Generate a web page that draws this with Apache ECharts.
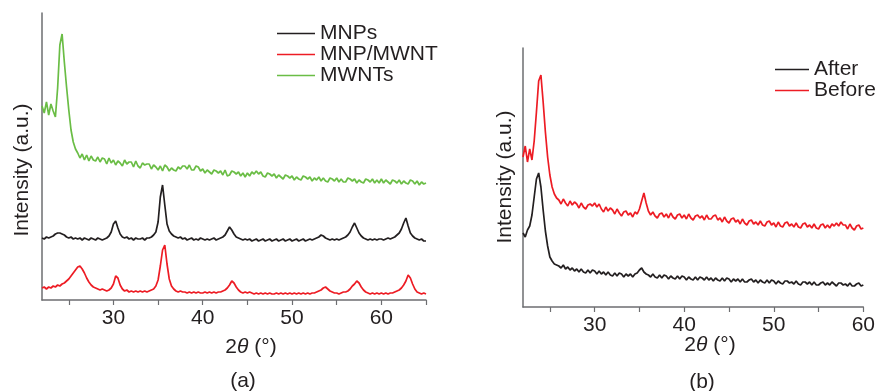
<!DOCTYPE html>
<html>
<head>
<meta charset="utf-8">
<script src="https://cdn.jsdelivr.net/npm/echarts@6/dist/echarts.min.js"></script>
<style>
  html, body { margin: 0; padding: 0; background: #fff; }
  #chart { width: 878px; height: 391px; }
</style>
</head>
<body>
<div id="chart"></div>
<script>
// 2theta sampling used for the values
const startA = 22, stepA = 0.25;   // panel (a): 22 .. 65
const startB = 22, stepB = 0.25;   // panel (b): 22 .. 60

// panel (a) tick / label positions
const ticksA = [25, 30, 35, 40, 45, 50, 55, 60, 65];
const labelsA = [30, 40, 50, 60];
// panel (b)
const ticksB = [25, 30, 35, 40, 45, 50, 55, 60];
const labelsB = [30, 40, 50, 60];

// intensities (a.u., offset stacked as in the figure), one value per 0.25 deg
const mnps = [
  62, 61, 63, 62,  63, 64, 66, 67,  67, 66, 65, 63,  62, 63, 61, 62,
  61, 62, 60, 62,  61, 60, 62, 61,  60, 62, 61, 60,  61, 62, 64, 68,
  76, 79, 72, 66,  63, 62, 63, 61,  62, 60, 62, 61,  61, 62, 60, 62,
  62, 63, 65, 68,  78, 103, 115, 95, 76, 69, 66, 64, 63, 62, 63, 61,
  62, 60, 61, 62,  60, 61, 60, 62,  61, 60, 61, 60,  61, 62, 60, 61,
  62, 63, 65, 69,  73, 70, 66, 63,  62, 61, 60, 61,  60, 61, 59, 60,
  61, 59, 60, 61,  59, 60, 61, 59,  60, 61, 59, 60,  61, 59, 60, 61,
  59, 60, 61, 59,  60, 61, 59, 60,  61, 60, 61, 62,  63, 65, 64, 62,
  61, 60, 61, 60,  61, 60, 61, 62,  63, 65, 68, 73,  77, 72, 67, 64,
  62, 61, 60, 61,  60, 61, 60, 61,  61, 60, 61, 62,  61, 62, 63, 65,
  67, 71, 77, 82,  74, 67, 64, 62,  61, 60, 61, 59,  59
];
const mnpMwnt = [
  12, 13, 11, 13,  12, 14, 13, 15,  14, 16, 17, 19,  21, 24, 27, 30,
  33, 34, 31, 27,  22, 18, 15, 13,  12, 11, 10, 11,  10, 9, 10, 12,
  16, 24, 22, 15,  11, 9, 10, 8,   9, 8, 9, 8,     9, 8, 9, 8,
  9, 10, 11, 14,   20, 34, 50, 55,  36, 21, 14, 11,  9, 8, 9, 8,
  8, 7, 8, 7,      8, 7, 8, 7,     7, 8, 7, 8,     7, 8, 7, 8,
  8, 9, 10, 12,    15, 19, 17, 13,  10, 8, 7, 8,    7, 8, 7, 6,
  7, 6, 7, 6,      7, 6, 7, 6,     6, 7, 6, 7,     6, 7, 6, 7,
  6, 7, 6, 7,      6, 7, 6, 7,     6, 7, 7, 8,     9, 10, 12, 13,
  11, 9, 8, 7,     7, 6, 7, 8,     8, 9, 11, 14,   16, 19, 17, 13,
  10, 8, 7, 6,     7, 6, 7, 6,     7, 6, 7, 6,     7, 7, 8, 9,
  10, 12, 15, 19,  25, 22, 16, 11,  8, 7, 6, 7,     6
];
const mwnts = [
  194, 187, 198, 185,  196, 189, 183, 212,  255, 266, 238, 213,  190, 170, 158, 151,
  147, 142, 146, 140,  145, 139, 144, 140,  139, 143, 138, 142,  141, 136, 142, 137,
  140, 135, 139, 137,  134, 140, 136, 138,  138, 133, 139, 134,  132, 137, 135, 136,
  136, 131, 135, 133,  130, 134, 129, 135,  133, 129, 132, 130,  129, 133, 131, 134,
  134, 131, 135, 130,  130, 134, 133, 129,  131, 127, 130, 128,  126, 130, 129, 127,
  129, 125, 130, 124,  125, 129, 128, 126,  128, 124, 127, 123,  127, 124, 128, 126,
  129, 126, 128, 124,  123, 127, 126, 124,  126, 122, 125, 123,  121, 125, 124, 122,
  124, 120, 123, 121,  120, 124, 123, 121,  123, 119, 122, 120,  123, 119, 122, 119,
  118, 122, 121, 119,  122, 118, 121, 118,  118, 122, 121, 119,  121, 117, 120, 118,
  117, 121, 120, 118,  121, 117, 120, 117,  121, 117, 120, 118,  116, 120, 119, 117,
  120, 116, 119, 117,  116, 120, 119, 116,  119, 115, 118, 116,  117
];

const after = [
  74, 70, 77, 81,  92, 110, 128, 134,  120, 97, 76, 61,  50, 46, 43, 42,
  41, 39, 42, 38,  40, 37, 39, 36,  38, 35, 38, 35,  34, 37, 34, 37,
  36, 33, 36, 33,  35, 32, 35, 32,  31, 34, 31, 34,  33, 30, 33, 31,
  33, 30, 33, 34,  37, 39, 35, 33,  32, 30, 33, 30,  29, 32, 29, 32,
  31, 28, 31, 29,  28, 31, 28, 31,  30, 27, 30, 28,  27, 30, 27, 30,
  29, 27, 30, 27,  29, 26, 29, 27,  26, 29, 26, 29,  28, 25, 28, 26,
  28, 25, 28, 25,  25, 27, 28, 25,  27, 24, 27, 25,  24, 27, 24, 27,
  26, 23, 26, 24,  23, 26, 26, 24,  25, 23, 26, 23,  22, 25, 25, 23,
  25, 22, 25, 22,  22, 24, 25, 22,  24, 22, 25, 23,  21, 24, 24, 22,
  23, 21, 24, 21,  21, 23, 24, 21,  22
];
const before = [
  150, 161, 145, 158,  147, 166, 195, 226,  232, 205, 175, 150,  132, 120, 113, 109,
  107, 103, 108, 104,  101, 106, 102, 105,  103, 99, 104, 100,  98, 102, 103, 101,
  104, 100, 103, 98,   95, 100, 96, 99,   97, 93, 98, 94,    91, 95, 96, 92,
  94, 90, 95, 93,     98, 106, 114, 104,  96, 92, 95, 91,   89, 93, 94, 90,
  93, 89, 94, 90,     88, 92, 93, 89,    92, 88, 93, 89,   87, 91, 92, 89,
  91, 87, 92, 88,     88, 91, 92, 87,    89, 85, 90, 86,   84, 88, 89, 85,
  87, 83, 88, 84,     82, 86, 87, 83,    85, 82, 86, 82,   81, 85, 86, 82,
  84, 80, 85, 81,     80, 84, 85, 81,    83, 80, 84, 80,   79, 83, 84, 80,
  82, 79, 83, 79,     78, 82, 83, 79,    82, 79, 83, 81,   84, 81, 85, 82,
  82, 78, 83, 79,     77, 81, 82, 78,    79
];

function toPairs(start, step, values) {
  return values.map((v, i) => [+(start + i * step).toFixed(2), v]);
}

const FONT = '"Liberation Sans", Arial, Helvetica, sans-serif';
const FS = 21;
const TEXT = '#231f20';
const AXIS = '#6d6e71';
const BLACK = '#231f20';
const RED = '#ed1c24';
const GREEN = '#6abd45';

function xAxisFor(gridIndex, min, max, ticks, labels) {
  return {
    gridIndex, type: 'value', min, max,
    axisLine: { onZero: false, lineStyle: { color: AXIS, width: 1.5 } },
    axisTick: { show: true, length: 5, customValues: ticks, lineStyle: { color: AXIS, width: 1.2 } },
    axisLabel: { customValues: labels, fontSize: FS, color: TEXT, fontFamily: FONT, margin: 8 },
    splitLine: { show: false }
  };
}
function yAxisFor(gridIndex, max) {
  return {
    gridIndex, type: 'value', min: 0, max,
    axisLine: { show: true, onZero: false, lineStyle: { color: AXIS, width: 1.5 } },
    axisTick: { show: false },
    axisLabel: { show: false },
    splitLine: { show: false }
  };
}
function lineSeries(name, idx, data, color) {
  return {
    name, type: 'line', xAxisIndex: idx, yAxisIndex: idx,
    data, color, symbol: 'none', showSymbol: false,
    lineStyle: { width: 1.7, color }, silent: true
  };
}

const chart = echarts.init(document.getElementById('chart'));
chart.setOption({
  animation: false,
  backgroundColor: '#fff',
  grid: [
    { left: 42, top: 13, right: 452, bottom: 91 },
    { left: 523, top: 48, right: 10, bottom: 84 }
  ],
  xAxis: [
    xAxisFor(0, 22, 65, ticksA, labelsA),
    xAxisFor(1, 22, 60, ticksB, labelsB)
  ],
  yAxis: [yAxisFor(0, 287), yAxisFor(1, 259)],
  legend: [
    {
      data: ['MNPs', 'MNP/MWNT', 'MWNTs'], orient: 'vertical',
      left: 277, top: 23, padding: 0, itemGap: 0,
      icon: 'rect', itemWidth: 38, itemHeight: 1.5,
      textStyle: { fontSize: FS, color: TEXT, fontFamily: FONT, lineHeight: 19.5 }
    },
    {
      data: ['After', 'Before'], orient: 'vertical',
      left: 775, top: 59, padding: 0, itemGap: 0,
      icon: 'rect', itemWidth: 34, itemHeight: 1.5,
      textStyle: { fontSize: FS, color: TEXT, fontFamily: FONT, lineHeight: 19 }
    }
  ],
  series: [
    lineSeries('MNPs', 0, toPairs(startA, stepA, mnps), BLACK),
    lineSeries('MNP/MWNT', 0, toPairs(startA, stepA, mnpMwnt), RED),
    lineSeries('MWNTs', 0, toPairs(startA, stepA, mwnts), GREEN),
    lineSeries('After', 1, toPairs(startB, stepB, after), BLACK),
    lineSeries('Before', 1, toPairs(startB, stepB, before), RED)
  ],
  graphic: [
    { type: 'text', x: 22, y: 170, rotation: Math.PI / 2,
      style: { text: 'Intensity (a.u.)', fontSize: FS, fontFamily: FONT, fill: TEXT, align: 'center', verticalAlign: 'middle' } },
    { type: 'text', x: 505, y: 177, rotation: Math.PI / 2,
      style: { text: 'Intensity (a.u.)', fontSize: FS, fontFamily: FONT, fill: TEXT, align: 'center', verticalAlign: 'middle' } },
    { type: 'text', x: 251, y: 347,
      style: { text: '{n|2}{i|θ}{n| (°)}', align: 'center', verticalAlign: 'middle', fill: TEXT,
        rich: { n: { fontSize: FS, fontFamily: FONT, color: TEXT }, i: { fontSize: FS, fontFamily: FONT, fontStyle: 'italic', color: TEXT } } } },
    { type: 'text', x: 710, y: 345,
      style: { text: '{n|2}{i|θ}{n| (°)}', align: 'center', verticalAlign: 'middle', fill: TEXT,
        rich: { n: { fontSize: FS, fontFamily: FONT, color: TEXT }, i: { fontSize: FS, fontFamily: FONT, fontStyle: 'italic', color: TEXT } } } },
    { type: 'text', x: 243, y: 381,
      style: { text: '(a)', fontSize: FS, fontFamily: FONT, fill: TEXT, align: 'center', verticalAlign: 'middle' } },
    { type: 'text', x: 702, y: 382,
      style: { text: '(b)', fontSize: FS, fontFamily: FONT, fill: TEXT, align: 'center', verticalAlign: 'middle' } }
  ]
});
</script>
</body>
</html>
